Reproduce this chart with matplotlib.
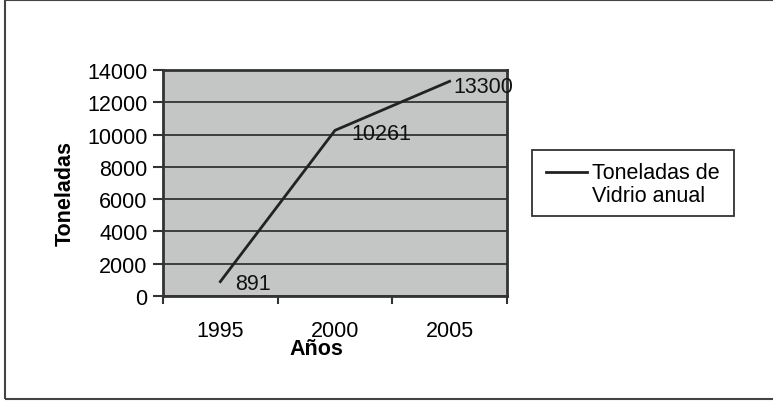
import matplotlib
matplotlib.use("Agg")
import matplotlib.pyplot as plt
from matplotlib.patches import Rectangle
from matplotlib.lines import Line2D

plt.rcParams['font.family'] = ['Liberation Sans', 'DejaVu Sans']

years = ["1995", "2000", "2005"]
tons = [891, 10261, 13300]
series_name = "Toneladas de\nVidrio anual"
# label offsets in points (Excel-like "right" placement)
label_offsets = [(11, -1), (12, -2), (3, -4)]

FS = 15.5
W, H = 773, 402

fig = plt.figure(figsize=(7.73, 4.02), dpi=100)
ax = fig.add_axes([163 / W, 1 - 297 / H, 344 / W, 226 / H])

# outer chart border
fig.patches.append(Rectangle((5 / W, 2 / H), 1.2, 399 / H, transform=fig.transFigure,
                             fill=False, edgecolor='#444444', linewidth=1.5, clip_on=False))

x = list(range(len(years)))
ax.set_facecolor('#c4c6c6')
ax.plot(x, tons, color='#222222', linewidth=2, zorder=3)

for xi, v, off in zip(x, tons, label_offsets):
    ax.annotate(str(v), (xi, v), xytext=off, textcoords='offset points',
                ha='left', va='center', fontsize=FS, color='#111111',
                annotation_clip=False, zorder=4)

ax.set_xlim(-0.5, 2.5)
ax.set_ylim(0, 14000)
ax.set_yticks(range(0, 14001, 2000))
ax.yaxis.grid(True, color='#333333', linewidth=1.3)
ax.set_axisbelow(True)

ax.set_xticks(x)
ax.set_xticklabels(years)
ax.set_xticks([-0.5, 0.5, 1.5, 2.5], minor=True)
ax.tick_params(axis='x', which='major', length=0, pad=17.5, labelsize=FS)
ax.tick_params(axis='x', which='minor', length=6, width=1.5, color='#333333')
ax.tick_params(axis='y', length=7, width=1.5, color='#333333', pad=4, labelsize=FS)

for s in ax.spines.values():
    s.set_color('#333333')
    s.set_linewidth(2)

ax.set_xlabel("Años", fontsize=FS, fontweight='bold')
ax.xaxis.label.set_verticalalignment('center')
ax.xaxis.set_label_coords((316 - 163) / 344, -(350 - 297) / 226)
ax.set_ylabel("Toneladas", fontsize=FS, fontweight='bold')
ax.yaxis.set_label_coords(-(163 - 65) / 344, (297 - 193) / 226)
ax.yaxis.label.set_verticalalignment('center')

# legend drawn by hand to match the box layout
fig.patches.append(Rectangle((532 / W, 1 - 217 / H), 202 / W, 66 / H, transform=fig.transFigure,
                             fill=False, edgecolor='#333333', linewidth=1.3))
fig.lines.append(Line2D([546 / W, 587 / W], [1 - 173 / H] * 2, transform=fig.transFigure,
                        color='#222222', linewidth=2))
fig.text(592 / W, 1 - 185 / H, series_name, fontsize=FS, ha='left', va='center',
         linespacing=1.15)

fig.savefig("out.png", dpi=100)
